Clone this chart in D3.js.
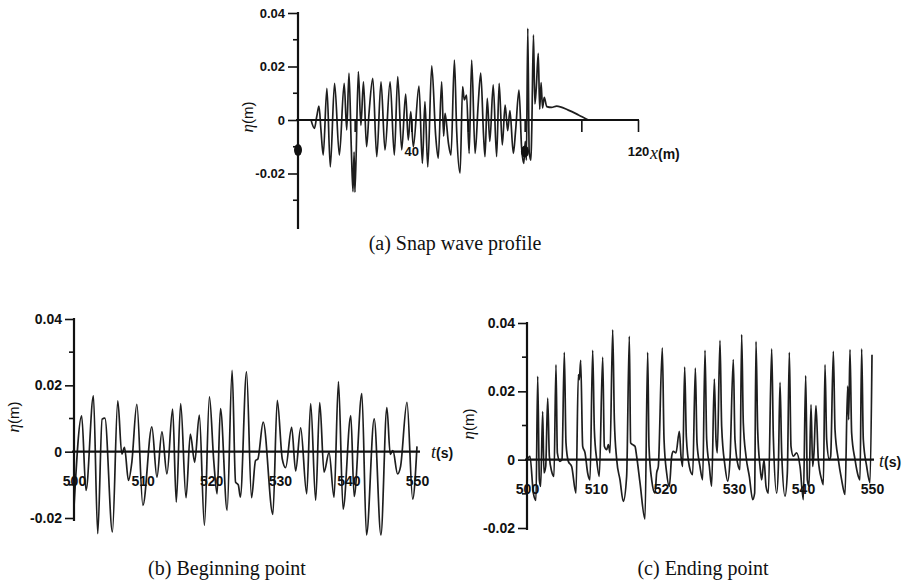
<!DOCTYPE html>
<html>
<head>
<meta charset="utf-8">
<script src="https://cdn.jsdelivr.net/npm/d3@7"></script>
<style>
  body { margin:0; background:#fff; }
  .tick text { font-family:"Liberation Sans", Arial, sans-serif; font-weight:bold; fill:#111; }
  .caption { font-family:"Liberation Serif", "Times New Roman", serif; font-size:20px; fill:#111; }
  .wave { fill:none; stroke:#1e1e1e; stroke-width:1.7; stroke-linejoin:round; }
</style>
</head>
<body>
<div id="fig"></div>
<script>
// (a) snap wave profile, eta (m) vs x (m)
const profile = [
  [4.6,0],[5.8,-0.0031],[6.6,0.0012],[7.4,0.0052],[8.1,-0.0037],[8.9,-0.0131],[10.2,0.0118],[11.4,-0.0175],
  [12.9,0.0137],[14.6,-0.0131],[16.3,0.0137],[17.2,-0.0037],[18.0,0.0175],[18.8,-0.010],[19.4,-0.0268],[19.8,-0.012],
  [20.1,-0.027],[21.3,0.0181],[22.2,-0.002],[23.1,0.0143],[24.2,-0.0100],[25.1,0.0030],[26.4,0.0156],[27.8,-0.0137],
  [29.3,0.0143],[30.7,-0.0112],[32.5,0.0143],[34.0,-0.0131],[35.2,0.0162],[36.6,-0.0112],[38.0,0.0097],[38.9,-0.0075],
  [39.8,0.0031],[40.7,-0.0100],[42.7,0.0127],[43.9,-0.0162],[44.8,0.0069],[45.8,-0.0175],[47.2,0.0202],[48.6,-0.006],
  [49.5,-0.0143],[50.7,0.0143],[51.4,-0.006],[51.9,0.0025],[53.1,-0.0087],[54.0,-0.0131],[55.2,0.0224],[56.0,-0.004],
  [57.2,-0.0199],[58.1,0.0125],[58.7,0.0075],[59.5,0.0093],[60.4,-0.0125],[61.3,0.0224],[62.5,-0.0125],[63.6,0.006],
  [64.5,0.0175],[65.5,-0.006],[66.0,-0.0137],[66.8,0.0081],[67.7,-0.008],[68.9,0.0131],[70.1,-0.0137],[71.0,0.0137],
  [72.1,-0.0093],[73.1,0.0056],[74.0,-0.004],[74.8,0.0035],[76.0,-0.0125],[76.8,-0.004],[78.0,0.0112],[78.9,-0.010],
  [79.7,-0.0162],[80.2,-0.008],[80.6,-0.015],[81.1,0.0343],[81.6,-0.012],[82.2,-0.015],[82.5,-0.004],[83.1,0.0318],
  [83.6,0.006],[84.1,0.012],[84.8,0.0249],[85.3,0.004],[85.8,0.014],[86.3,0.0045],[86.9,0.0085],[87.8,0.0050],
  [89.5,0.0047],[91.3,0.0052],[95.4,0.0037],[99.0,0.0019],[102.5,0]
];
// gauge markers on the profile (beginning point, ending point)
const gauges = [[0,-0.0112],[80.1,-0.0118]];

// (b) beginning point, eta (m) vs t (s)
const beginSeries = [
  [500.0,-0.0167],[501.12,0.0108],[501.75,-0.0117],[502.83,0.0168],[503.46,-0.0247],[504.1,0.0098],[504.5,0.0101],
  [505.6,-0.0242],[506.38,0.0153],[506.97,-0.0007],[507.36,0.0013],[507.94,-0.0087],[508.43,-0.0032],[509.16,0.0143],
  [510.04,-0.0162],[511.35,0.0075],[512.09,-0.0077],[512.82,0.0060],[513.55,-0.0067],[514.38,0.0128],[514.91,-0.0152],
  [515.55,0.0145],[516.33,-0.0139],[516.96,0.0053],[517.59,-0.0032],[518.27,0.0110],[519.01,-0.0222],[519.74,0.0165],
  [520.37,-0.0027],[520.86,-0.0127],[521.35,0.0130],[522.32,-0.0177],[523.05,0.0245],[523.55,-0.0092],[523.95,-0.0100],
  [524.25,-0.0137],[525.15,0.0241],[525.88,-0.0139],[526.46,-0.0027],[526.8,-0.0022],[527.58,0.0089],[528.99,-0.0189],
  [529.63,0.0155],[530.36,-0.0022],[530.85,-0.0048],[531.73,0.0073],[532.31,-0.0058],[533.04,0.0072],[533.92,-0.0127],
  [534.5,0.0145],[535.23,-0.0147],[535.82,0.0148],[536.45,-0.0062],[537.18,-0.0003],[537.91,-0.0138],[538.55,0.0211],
  [539.23,-0.0173],[540.35,0.0109],[540.84,-0.0135],[541.96,0.0175],[542.64,-0.0251],[543.76,0.0099],[544.74,-0.0251],
  [545.61,0.0133],[546.1,-0.0008],[546.49,0.0003],[547.17,-0.0067],[547.6,-0.0045],[548.54,0.0149],[549.37,-0.0143],
  [550.0,0.0016]
];

// (c) ending point, eta (m) vs t (s)
const endSeries = [
  [500.00,0],[500.43,0.0010],[500.92,-0.0098],[501.30,-0.0119],[501.55,0.0244],[501.79,-0.0059],[501.98,-0.0078],
  [502.27,0.0141],[502.46,-0.0039],[502.71,-0.0020],[503.00,0.0180],[503.24,0.0010],[503.57,-0.0034],[503.91,-0.0049],
  [504.20,0.0278],[504.40,0.0020],[504.78,-0.0005],[505.07,0],[505.41,0.0314],[505.65,0.0049],[505.99,-0.0005],
  [506.47,-0.0020],[507.10,-0.0098],[507.44,0.0249],[507.58,0.0234],[507.78,0.0291],[508.07,0.0039],[508.41,0.0020],
  [508.79,-0.0039],[509.13,-0.0059],[509.52,0.0320],[509.76,0.0088],[510.10,0],[510.48,-0.0049],[510.97,0.0300],
  [511.21,0.0039],[511.55,0.0029],[511.79,0.0044],[512.03,0.0020],[512.42,0.0380],[512.66,0.0117],[513.00,0],
  [513.48,-0.0059],[513.96,-0.0122],[514.44,-0.0049],[514.83,0.0361],[515.02,0.0049],[515.31,0.0044],[515.65,0.0039],
  [515.89,0.0010],[516.38,-0.0068],[517.10,-0.0174],[517.49,0.0314],[517.68,0.0039],[518.07,-0.0059],[518.55,-0.0098],
  [518.79,-0.0039],[519.03,-0.0020],[519.61,0.0327],[519.86,0.0059],[520.24,-0.0039],[520.63,-0.0078],[520.97,0.0010],
  [521.21,0.0024],[521.59,0.0020],[522.08,0.0083],[522.32,0.0010],[522.56,-0.0020],[522.85,0.0271],[523.09,0.0068],
  [523.53,-0.0020],[524.01,-0.0044],[524.40,0.0268],[524.64,0.0049],[525.07,-0.0020],[525.46,-0.0059],[525.80,0.0320],
  [526.04,0.0059],[526.43,-0.0020],[526.76,-0.0078],[527.15,0.0236],[527.39,0.0059],[527.58,0.0020],[527.97,0.0349],
  [528.21,0.0098],[528.70,-0.0020],[529.08,-0.0063],[529.42,0],[529.90,0.0293],[530.14,0.0059],[530.63,-0.0020],
  [530.87,-0.0029],[531.11,0.0366],[531.35,0.0107],[531.74,0.0010],[532.22,-0.0049],[532.71,-0.0117],[532.99,-0.0098],
  [533.19,0.0346],[533.43,0.0088],[533.77,-0.0020],[534.01,-0.0059],[534.35,0],[534.64,-0.0078],[534.98,-0.0098],
  [535.46,0.0324],[535.70,0.0068],[536.18,-0.0098],[536.43,-0.0020],[536.67,0.0226],[536.91,0.0020],[537.39,-0.0107],
  [537.73,-0.0039],[538.02,0.0314],[538.26,0.0039],[538.60,0.0010],[539.08,0.0020],[539.57,-0.0020],[540.05,-0.0117],
  [540.39,0.0246],[540.63,-0.0059],[540.87,-0.0078],[541.16,0.0161],[541.40,-0.0020],[541.59,0.0020],[541.88,0.0158],
  [542.22,0],[542.71,-0.0059],[542.95,-0.0073],[543.19,0.0278],[543.43,0.0059],[543.82,0],[544.01,0.0010],
  [544.40,0.0317],[544.64,0.0088],[545.12,0],[545.60,-0.0059],[546.09,-0.0102],[546.47,0.0215],[546.62,0.0117],
  [546.81,0.0322],[547.05,0.0078],[547.54,0],[548.02,-0.0049],[548.26,-0.0059],[548.50,0.0324],[548.74,0.0059],
  [549.23,-0.0020],[549.71,-0.0068],[550.0,0.0307]
];

// axis ticks
const yMajorA = [-0.02, 0, 0.02, 0.04], yMinorA = [-0.03, -0.01, 0.01, 0.03];
const xTicksA = [20, 40, 60, 80, 100, 120], xLabelsA = [40, 120];
const yMajorBC = [-0.02, 0, 0.02, 0.04], yMinorBC = [-0.01, 0.01, 0.03];
const xTicksBC = [500, 510, 520, 530, 540, 550];
const captions = ["(a) Snap wave profile", "(b) Beginning point", "(c) Ending point"];

const svg = d3.select("#fig").append("svg").attr("width", 909).attr("height", 583);
const fmtY = d => d === 0 ? "0" : d.toFixed(2);

function drawPanel(p) {
    const g = svg.append("g");
    const x = d3.scaleLinear().domain(p.xDomain).range(p.xRange);
    const y = d3.scaleLinear().domain(p.yDomain).range(p.yRange);

    g.append("path").datum(p.data).attr("class", "wave")
        .attr("d", d3.line().x(d => x(d[0])).y(d => y(d[1])).curve(d3.curveMonotoneX));

    // x axis on eta = 0
    const xa = g.append("g").attr("transform", `translate(0,${y(0)})`)
        .call(d3.axisBottom(x).tickValues(p.xTicks).tickSize(p.xTickSize).tickSizeOuter(0)
            .tickPadding(p.xPad).tickFormat(d => p.xLabels.includes(d) ? d : ""));
    xa.select(".domain").attr("stroke", "#111").attr("stroke-width", 2.2)
        .attr("d", `M${p.xRange[0] - 2},0H${x(p.xDomain[1]) + p.xExtra}`);
    xa.selectAll(".tick line").attr("stroke", "#111").attr("stroke-width", 1.6);
    xa.selectAll(".tick text").style("font-size", p.fs + "px");

    // y axis
    const ya = g.append("g").attr("transform", `translate(${p.xRange[0]},0)`)
        .call(d3.axisLeft(y).tickValues(p.yMajor).tickSize(p.yTick).tickSizeOuter(0).tickPadding(3).tickFormat(fmtY));
    ya.select(".domain").attr("stroke", "#111").attr("stroke-width", 2.2)
        .attr("d", `M0,${p.yRange[1] - 1}V${p.yRange[0] + p.yExtra}`);
    ya.selectAll(".tick line").attr("stroke", "#111").attr("stroke-width", 1.6);
    ya.selectAll(".tick text").style("font-size", p.fs + "px");
    ya.selectAll(".minor").data(p.yMinor).enter().append("line")
        .attr("x1", -5).attr("x2", 0).attr("y1", d => y(d)).attr("y2", d => y(d))
        .attr("stroke", "#111").attr("stroke-width", 1.6);

    // axis titles
    const yl = g.append("text").attr("transform", `translate(${p.yLab[0]},${p.yLab[1]}) rotate(-90)`)
        .attr("text-anchor", "middle").attr("fill", "#111").style("font-size", "17px");
    yl.append("tspan").style("font-family", "'Liberation Serif', serif").style("font-style", "italic").text("η");
    yl.append("tspan").style("font-family", "'Liberation Sans', sans-serif").style("font-size", "15px").text("(m)");

    const xl = g.append("text").attr("x", p.xLab[0]).attr("y", p.xLab[1]).attr("fill", "#111");
    xl.append("tspan").style("font-family", "'Liberation Serif', serif").style("font-style", "italic")
        .style("font-size", "18px").text(p.xVar);
    xl.append("tspan").style("font-family", "'Liberation Sans', sans-serif").style("font-weight", "bold")
        .style("font-size", "14px").text(p.xUnit);

    return { g, x, y };
}

const a = drawPanel({
    data: profile, xDomain: [0, 120], xRange: [298, 638], yDomain: [-0.04, 0.04], yRange: [227, 13],
    xTicks: xTicksA, xLabels: xLabelsA, xTickSize: 12, xPad: 15, xExtra: 1,
    yMajor: yMajorA, yMinor: yMinorA, yTick: 10, yExtra: 2, fs: 13,
    yLab: [253, 117], xLab: [650, 159], xVar: "x", xUnit: "(m)"
});
a.g.selectAll(".gauge").data(gauges).enter().append("ellipse")
    .attr("cx", d => a.x(d[0])).attr("cy", d => a.y(d[1])).attr("rx", 4).attr("ry", 6).attr("fill", "#111");

drawPanel({
    data: beginSeries, xDomain: [500, 550], xRange: [74, 417], yDomain: [-0.02, 0.04], yRange: [518, 319],
    xTicks: xTicksBC, xLabels: xTicksBC, xTickSize: 0, xPad: 24, xExtra: 3,
    yMajor: yMajorBC, yMinor: yMinorBC, yTick: 9, yExtra: 3, fs: 14,
    yLab: [19, 417], xLab: [431, 458], xVar: "t", xUnit: "(s)"
});

drawPanel({
    data: endSeries, xDomain: [500, 550], xRange: [527, 872], yDomain: [-0.02, 0.04], yRange: [528, 323],
    xTicks: xTicksBC, xLabels: xTicksBC, xTickSize: 0, xPad: 24, xExtra: 2,
    yMajor: yMajorBC, yMinor: yMinorBC, yTick: 9, yExtra: 2, fs: 14,
    yLab: [474, 424], xLab: [879, 467], xVar: "t", xUnit: "(s)"
});

svg.selectAll(".caption").data(captions).enter().append("text").attr("class", "caption")
    .attr("x", (d, i) => [455, 227, 703][i]).attr("y", (d, i) => [250, 575, 575][i])
    .attr("text-anchor", "middle").text(d => d);
</script>
</body>
</html>
